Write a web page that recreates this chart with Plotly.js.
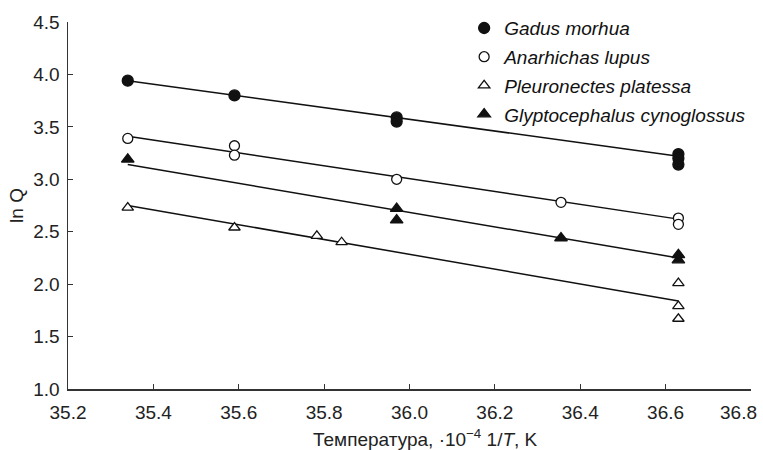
<!DOCTYPE html>
<html>
<head>
<meta charset="utf-8">
<script src="https://cdn.plot.ly/plotly-3.0.1.min.js"></script>
<style>html,body{margin:0;padding:0;background:#fff}#chart{width:763px;height:450px}</style>
</head>
<body>
<div id="chart"></div>
<script>
// Data (x: 10^-4 1/T, y: ln Q)
const gadusX = [35.34, 35.59, 35.97, 35.97, 36.63, 36.63, 36.63];
const gadusY = [3.94, 3.80, 3.59, 3.55, 3.24, 3.20, 3.14];
const anarX = [35.34, 35.59, 35.59, 35.97, 36.355, 36.63, 36.63];
const anarY = [3.39, 3.32, 3.23, 3.00, 2.78, 2.63, 2.57];
const pleuX = [35.34, 35.59, 35.783, 35.841, 36.63, 36.63, 36.63];
const pleuY = [2.73, 2.54, 2.46, 2.40, 2.01, 1.79, 1.67];
const glypX = [35.34, 35.97, 35.97, 36.355, 36.63, 36.63];
const glypY = [3.19, 2.72, 2.61, 2.44, 2.28, 2.23];

// Fitted regression lines (endpoints)
const fitX = [35.34, 36.63];
const gadusFit = [3.94, 3.22];
const anarFit = [3.41, 2.62];
const pleuFit = [2.75, 1.84];
const glypFit = [3.14, 2.25];

const names = ['Gadus morhua', 'Anarhichas lupus', 'Pleuronectes platessa', 'Glyptocephalus cynoglossus'];
const yTicks = [1.0, 1.5, 2.0, 2.5, 3.0, 3.5, 4.0, 4.5];
const xTicks = [35.2, 35.4, 35.6, 35.8, 36.0, 36.2, 36.4, 36.6, 36.8];
const xTickText = ['35.2', '35.4', '35.6', '35.8', '36.0', '36.2', '36.4', '36.6', '36.8'];
const xTitle = 'Температура, ·10<sup>−4</sup> 1/<i>T</i>, K';

const lineStyle = {color: '#111', width: 1.5};
function fit(y) {
  return {x: fitX, y: y, mode: 'lines', line: lineStyle, showlegend: false, hoverinfo: 'skip'};
}
function pts(x, y, name, symbol, fill, size, grp) {
  return {x: x, y: y, mode: 'markers', name: '<i>' + name + '</i>', legendgroup: grp,
    marker: {symbol: symbol, size: size, color: fill, line: {color: '#111', width: 1.3}}};
}

const traces = [
  fit(gadusFit), fit(anarFit), fit(pleuFit), fit(glypFit),
  pts(gadusX, gadusY, names[0], 'circle', '#111', 11, 'a'),
  pts(anarX, anarY, names[1], 'circle', '#fff', 10, 'b'),
  pts(pleuX, pleuY, names[2], 'triangle-up', '#fff', 10, 'c'),
  pts(glypX, glypY, names[3], 'triangle-up', '#111', 11, 'd')
];

const last = xTicks.length - 1;
const font = {family: 'Liberation Sans, Arial, sans-serif', size: 19, color: '#222'};
const layout = {
  width: 763, height: 450,
  margin: {l: 68, r: 12, t: 22, b: 61, autoexpand: false},
  paper_bgcolor: '#fff', plot_bgcolor: '#fff',
  font: font,
  showlegend: true,
  legend: {x: 0.58, y: 1.035, xanchor: 'left', yanchor: 'top', bgcolor: 'rgba(0,0,0,0)',
    font: {family: font.family, size: 19, color: '#111'}, tracegroupgap: 1, itemwidth: 30},
  xaxis: {range: [35.2, 36.8001], tickvals: xTicks,
    ticktext: xTickText.map((t, i) => i === last ? '' : t),
    automargin: false,
    showgrid: false, zeroline: false, showline: true, linecolor: '#333', linewidth: 1.5,
    ticks: 'inside', ticklen: 5, tickcolor: '#333', tickwidth: 1.2, ticklabelstandoff: 6},
  yaxis: {range: [1.0, 4.5], tickvals: yTicks, ticktext: yTicks.map(v => v.toFixed(1)),
    automargin: false,
    showgrid: false, zeroline: false, showline: true, linecolor: '#333', linewidth: 1.5,
    ticks: 'inside', ticklen: 5, tickcolor: '#333', tickwidth: 1.2, ticklabelstandoff: 3,
    title: {text: 'ln Q', font: {size: 19}, standoff: 4}},
  annotations: [
    {text: xTickText[last], xref: 'x', yref: 'paper', x: xTicks[last], y: -0.0627, xshift: -12,
      xanchor: 'center', yanchor: 'middle', showarrow: false, font: {size: 19, color: '#222'}},
    {text: xTitle, xref: 'paper', yref: 'paper', x: 0.523, y: -0.133,
      xanchor: 'center', yanchor: 'middle', showarrow: false, font: {size: 19, color: '#222'}}]
};
Plotly.newPlot('chart', traces, layout, {displayModeBar: false, staticPlot: true});
</script>
</body>
</html>
